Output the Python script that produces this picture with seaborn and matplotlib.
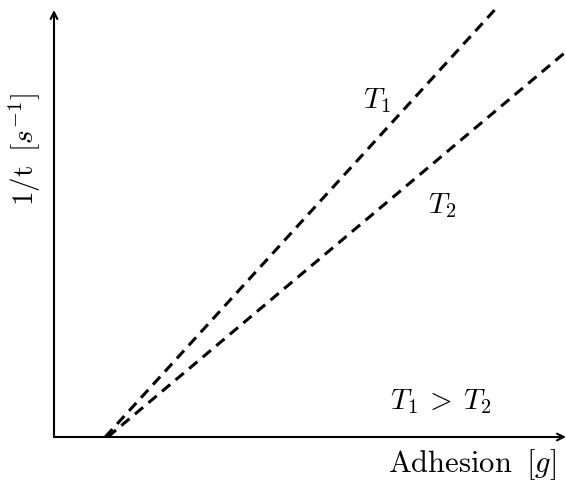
import numpy as np
import pandas as pd
import matplotlib
matplotlib.use("Agg")
import matplotlib.pyplot as plt
import seaborn as sns

# Growth rate vs. adhesion for two temperatures (schematic, arbitrary units)
adhesion_t1 = [1.0, 8.65]
rate_t1 = [0.0, 8.55]
adhesion_t2 = [1.05, 10.0]
rate_t2 = [0.0, 7.67]
series = ["T1", "T1", "T2", "T2"]

df = pd.DataFrame({
    "adhesion": adhesion_t1 + adhesion_t2,
    "rate": rate_t1 + rate_t2,
    "series": series,
})

sns.set_theme(style="white")
plt.rcParams["mathtext.fontset"] = "cm"
plt.rcParams["font.family"] = ["DejaVu Serif"]
plt.rcParams["text.color"] = "black"

W, H = 566, 482
fig = plt.figure(figsize=(W / 100, H / 100), dpi=100)
ax = fig.add_axes([54 / W, (H - 437) / H, 512 / W, 427 / H])

sns.lineplot(data=df, x="adhesion", y="rate", hue="series",
             palette={"T1": "black", "T2": "black"},
             ax=ax, legend=False, linewidth=2.2, clip_on=False)
for line in ax.get_lines():
    line.set_dashes((3.5, 2.3))
    line.set_clip_on(False)

ax.set_xlim(0, 10)
ax.set_ylim(0, 8.5)
for s in ax.spines.values():
    s.set_visible(False)
ax.set_xticks([])
ax.set_yticks([])
ax.set_xlabel("")
ax.set_ylabel("")

# axes drawn as arrows
arrow = dict(arrowstyle="->", lw=1.5, color="black", mutation_scale=12,
             shrinkA=0, shrinkB=0)
ax.annotate("", xy=(1.0, 0), xytext=(0, 0), xycoords="axes fraction",
            textcoords="axes fraction", arrowprops=arrow, annotation_clip=False)
ax.annotate("", xy=(0, 1.0), xytext=(0, 0), xycoords="axes fraction",
            textcoords="axes fraction", arrowprops=arrow, annotation_clip=False)

fs = 21
ax.text(6.3, 6.7, r"$T_1$", fontsize=fs, ha="center", va="center")
ax.text(7.57, 4.6, r"$T_2$", fontsize=fs, ha="center", va="center")
ax.text(7.55, 0.7, r"$T_1\:>\:T_2$", fontsize=fs, ha="center", va="center")

fig.text(472 / W, 1 - 465 / H, r"$\mathrm{Adhesion}\;\;[g]$", fontsize=22,
         ha="center", va="center")
fig.text(25 / W, 1 - 150 / H, r"$\mathrm{1/t}\;\;[s^{-1}]$", fontsize=fs,
         ha="center", va="center", rotation=90)

fig.savefig("out.png", dpi=100)
